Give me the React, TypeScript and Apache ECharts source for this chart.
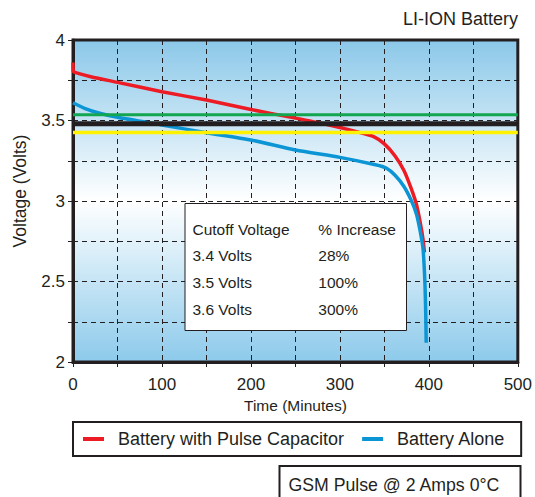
import React, { useEffect, useRef } from 'react';
import * as echarts from 'echarts';

// Battery with Pulse Capacitor (red)
const pulseCapTime = [0, 0.4, 3, 20, 50, 100, 150, 200, 250, 283, 323, 338, 350, 362, 372, 380, 386, 390.5, 393.5, 395];
const pulseCapVolts = [3.86, 3.805, 3.797, 3.772, 3.737, 3.679, 3.627, 3.568, 3.515, 3.478, 3.425, 3.4, 3.355, 3.28, 3.19, 3.08, 2.98, 2.86, 2.76, 2.68];

// Battery Alone (blue)
const aloneTime = [0, 13, 30, 50, 100, 150, 200, 250, 300, 340, 352, 362, 372, 380, 386, 390, 393.5, 395.5, 396.5, 397];
const aloneVolts = [3.61, 3.576, 3.545, 3.52, 3.472, 3.424, 3.379, 3.317, 3.271, 3.225, 3.205, 3.16, 3.09, 3.006, 2.92, 2.82, 2.7, 2.5, 2.3, 2.12];

// Horizontal cutoff reference lines
const cutoffNames = ['Green', 'Black', 'Yellow'];
const cutoffLevels = [3.535, 3.48, 3.425];
const cutoffColors = ['#12a650', '#231f20', '#fff200'];
const cutoffWidths = [3, 5, 3.5];

// Table
const tableHeader = ['Cutoff Voltage', '% Increase'];
const tableVolts = ['3.4 Volts', '3.5 Volts', '3.6 Volts'];
const tableIncrease = ['28%', '100%', '300%'];

const seriesNames = ['Battery with Pulse Capacitor', 'Battery Alone'];

const FONT = "'Liberation Sans', Arial, Helvetica, sans-serif";
const INK = '#231f20';

export default function App() {
  const ref = useRef<HTMLDivElement>(null);
  useEffect(() => {
    if (!ref.current) return;
    const chart = echarts.init(ref.current, null, { renderer: 'svg' });
    const zip = (xs: number[], ys: number[]) => xs.map((x, i) => [x, ys[i]]);

    const tableRows = [[tableHeader[0], tableHeader[1]], ...tableVolts.map((v, i) => [v, tableIncrease[i]])];
    const rowY = [229, 255.7, 282.3, 309];
    const tableTexts: any[] = [];
    tableRows.forEach((row, i) => {
      tableTexts.push({
        type: 'text', x: 192.5, y: rowY[i],
        style: { text: row[0], fontSize: 15.5, fontFamily: FONT, fill: INK, verticalAlign: 'middle' },
      });
      tableTexts.push({
        type: 'text', x: 318.3, y: rowY[i],
        style: { text: row[1], fontSize: 15.5, fontFamily: FONT, fill: INK, verticalAlign: 'middle' },
      });
    });

    chart.setOption({
      animation: false,
      title: {
        text: 'LI-ION Battery',
        right: 12,
        top: 5,
        textStyle: { fontSize: 18, fontWeight: 'normal', color: INK, fontFamily: FONT },
      },
      grid: {
        left: 73, right: 17, top: 40, bottom: 135,
        show: true,
        borderColor: INK,
        borderWidth: 3,
        backgroundColor: new echarts.graphic.LinearGradient(0, 0, 0, 1, [
          { offset: 0, color: '#8bc8e9' },
          { offset: 0.5, color: '#ffffff' },
          { offset: 1, color: '#8dcaeb' },
        ]),
      },
      legend: {
        data: seriesNames,
        left: 73,
        top: 422,
        icon: 'rect',
        itemWidth: 21,
        itemHeight: 4,
        itemGap: 18,
        padding: [7, 16, 7, 10],
        borderColor: INK,
        borderWidth: 2,
        backgroundColor: '#ffffff',
        textStyle: { fontSize: 18, color: INK, fontFamily: FONT, padding: [0, 0, 0, 9], lineHeight: 20 },
      },
      xAxis: {
        type: 'value',
        min: 0, max: 500, interval: 50,
        name: 'Time (Minutes)',
        nameLocation: 'middle',
        nameGap: 34,
        nameTextStyle: { fontSize: 15.5, color: INK, fontFamily: FONT },
        axisLine: { show: true, lineStyle: { color: INK, width: 3 } },
        axisTick: { show: true, length: 5, lineStyle: { color: INK, width: 1 } },
        axisLabel: {
          margin: 14,
          fontSize: 17, color: INK, fontFamily: FONT,
          formatter: (v: number) => (v % 100 === 0 ? String(v) : ''),
        },
        splitLine: { show: true, lineStyle: { color: INK, width: 1, type: [5, 4] } },
      },
      yAxis: {
        type: 'value',
        min: 2, max: 4, interval: 0.25,
        axisLine: { show: true, lineStyle: { color: INK, width: 3 } },
        axisTick: { show: true, length: 5, lineStyle: { color: INK, width: 1 } },
        axisLabel: {
          margin: 8,
          fontSize: 17, color: INK, fontFamily: FONT,
          formatter: (v: number) => (Math.abs(v * 2 - Math.round(v * 2)) < 1e-6 ? String(v) : ''),
        },
        splitLine: { show: true, lineStyle: { color: INK, width: 1, type: [5, 4] } },
      },
      series: [
        {
          name: seriesNames[0], type: 'line', data: zip(pulseCapTime, pulseCapVolts),
          showSymbol: false, symbol: 'none', smooth: 0.25,
          lineStyle: { color: '#ed1c24', width: 3.5 }, itemStyle: { color: '#ed1c24' },
        },
        {
          name: seriesNames[1], type: 'line', data: zip(aloneTime, aloneVolts),
          showSymbol: false, symbol: 'none', smooth: 0.25,
          lineStyle: { color: '#0b95d5', width: 3.5 }, itemStyle: { color: '#0b95d5' },
        },
        ...cutoffLevels.map((lv, i) => ({
          name: cutoffNames[i], type: 'line', data: [[0, lv], [500, lv]],
          showSymbol: false, symbol: 'none', silent: true,
          lineStyle: { color: cutoffColors[i], width: cutoffWidths[i] },
          itemStyle: { color: cutoffColors[i] },
        })),
      ],
      graphic: [
        {
          type: 'text', x: 20, y: 191, rotation: Math.PI / 2,
          style: { text: 'Voltage (Volts)', fontSize: 17.5, fontFamily: FONT, fill: INK, align: 'center', verticalAlign: 'middle' },
        },
        {
          type: 'rect', shape: { x: 185, y: 203.5, width: 221.5, height: 127 },
          style: { fill: '#ffffff', stroke: INK, lineWidth: 1 }, z: 10,
        },
        ...tableTexts.map((t) => ({ ...t, z: 11 })),
        {
          type: 'rect', shape: { x: 279.5, y: 466, width: 241, height: 40 },
          style: { fill: '#ffffff', stroke: INK, lineWidth: 2 },
        },
        {
          type: 'text', x: 288.5, y: 485,
          style: { text: 'GSM Pulse @ 2 Amps 0°C', fontSize: 17.7, fontFamily: FONT, fill: INK, verticalAlign: 'middle' },
        },
      ],
    });
    return () => chart.dispose();
  }, []);
  return <div ref={ref} style={{ width: 535, height: 497, position: 'absolute', left: 0, top: 0 }} />;
}
